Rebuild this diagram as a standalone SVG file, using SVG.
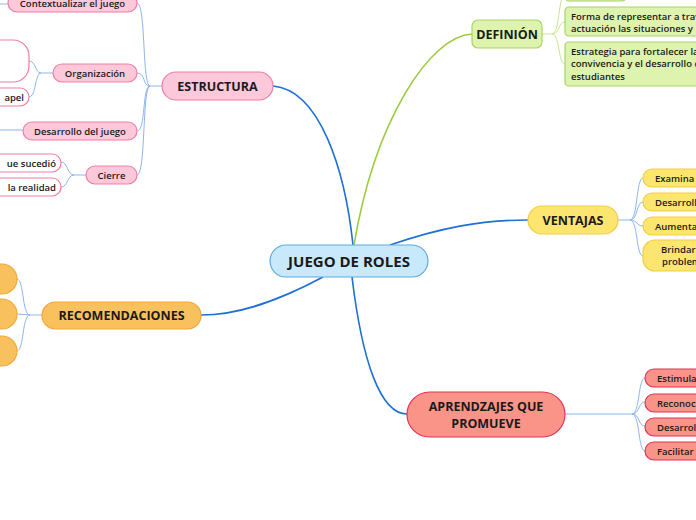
<svg xmlns="http://www.w3.org/2000/svg" width="696" height="520" viewBox="0 0 696 520">
<style>
text{font-family:"Open Sans","Noto Sans","Liberation Sans",sans-serif;fill:#1a1a1a;font-weight:700}
.t{font-size:15px;text-anchor:middle}
.m{font-size:12.5px;text-anchor:middle}
.s{font-size:9.5px;font-weight:600}
.sc{font-size:9.5px;font-weight:600;text-anchor:middle}
.pink{fill:#fcc8da;stroke:#ee7fa4;stroke-width:1.2}
.pinkw{fill:#ffffff;stroke:#ee7fa4;stroke-width:1.2}
.green{fill:#def3ae;stroke:#a9d46a;stroke-width:1.2}
.yellow{fill:#fde670;stroke:#f1cd45;stroke-width:1.2}
.red{fill:#fb9488;stroke:#e23259;stroke-width:1.2}
.orange{fill:#f9c15d;stroke:#f3a836;stroke-width:1.2}
.main{fill:none;stroke:#1f6fd6;stroke-width:1.6}
.mg{fill:none;stroke:#9ccb3e;stroke-width:1.6}
.sub{fill:none;stroke:#8db5ee;stroke-width:1}
.subg{fill:none;stroke:#c8e593;stroke-width:1}
</style>
<g id="connectors">
<path class="main" d="M273,86 C320,90 345,170 353,245"/>
<path class="mg" d="M354,245 C375,120 430,36 472,34"/>
<path class="main" d="M390,245 C440,228 480,220 528,220"/>
<path class="main" d="M352,277 C362,360 380,414 407,414"/>
<path class="main" d="M323,277 C280,300 240,315 201,315"/>
<path class="sub" d="M150,86 L162,86" stroke-width="2.5"/>
<path class="sub" d="M150,86 C142,86 146,3 137,3"/>
<path class="sub" d="M150,86 C142,86 146,73 137,73"/>
<path class="sub" d="M150,86 C142,86 146,131 137,131"/>
<path class="sub" d="M150,86 C142,86 146,175 137,175"/>
<path class="sub" d="M0,4 L8,4"/>
<path class="sub" d="M0,130 L23,130"/>
<path class="sub" d="M41,73 L53,73" stroke-width="2"/>
<path class="sub" d="M41,73 C35,73 36,61 29,61"/>
<path class="sub" d="M41,73 C35,73 36,97 29,97"/>
<path class="sub" d="M74,175 L86,175" stroke-width="2"/>
<path class="sub" d="M74,175 C67,175 68,162 61,162"/>
<path class="sub" d="M74,175 C67,175 68,187 61,187"/>
<path class="sub" d="M30,315 L42,315" stroke-width="2"/>
<path class="sub" d="M30,315 C22,315 24,279 17,279"/>
<path class="sub" d="M30,315 L17,314"/>
<path class="sub" d="M30,315 C22,315 24,351 17,351"/>
<path class="subg" d="M542,34 L552,34" stroke-width="2"/>
<path class="subg" d="M552,34 C560,34 558,-4 565,-6"/>
<path class="subg" d="M552,34 C560,34 558,22 565,22"/>
<path class="subg" d="M552,34 C560,34 558,64 565,64"/>
<path class="sub" d="M618,220 L630,220" stroke-width="2"/>
<path class="sub" d="M630,220 C638,220 636,178 643,178"/>
<path class="sub" d="M630,220 C638,220 636,202 643,202"/>
<path class="sub" d="M630,220 C638,220 636,226 643,226"/>
<path class="sub" d="M630,220 C638,220 636,256 643,256"/>
<path class="sub" d="M565,414 L632,414" stroke-width="2"/>
<path class="sub" d="M632,414 C640,414 638,378 645,378"/>
<path class="sub" d="M632,414 C640,414 638,402 645,402"/>
<path class="sub" d="M632,414 C640,414 638,426 645,426"/>
<path class="sub" d="M632,414 C640,414 638,451 645,451"/>
</g>
<g id="central">
<rect x="270" y="245" width="158" height="32" rx="16" fill="#c8e9fb" stroke="#5eabdc" stroke-width="1.2"/>
<text class="t" x="349" y="266.5">JUEGO DE ROLES</text>
</g>
<g id="estructura">
<rect class="pink" x="162" y="72" width="111" height="28" rx="14"/>
<text class="m" x="217.5" y="91">ESTRUCTURA</text>
</g>
<g id="contextualizar">
<rect class="pink" x="8" y="-6" width="129" height="18" rx="9"/>
<text class="sc" x="72.5" y="6.5">Contextualizar el juego</text>
</g>
<g id="organizacion">
<rect class="pink" x="53" y="64" width="84" height="18" rx="9"/>
<text class="sc" x="95" y="76.5">Organización</text>
</g>
<g id="org-child-1">
<rect class="pinkw" x="-40" y="40" width="69" height="42" rx="16"/>
</g>
<g id="org-child-2">
<rect class="pinkw" x="-40" y="88" width="69" height="18" rx="9"/>
<text class="s" x="24" y="100.5" text-anchor="end">apel</text>
</g>
<g id="desarrollo">
<rect class="pink" x="23" y="122" width="114" height="18" rx="9"/>
<text class="sc" x="80" y="134.5">Desarrollo del juego</text>
</g>
<g id="cierre">
<rect class="pink" x="86" y="166" width="51" height="18" rx="9"/>
<text class="sc" x="111.5" y="178.5">Cierre</text>
</g>
<g id="cierre-child-1">
<rect class="pinkw" x="-40" y="154" width="101" height="18" rx="9"/>
<text class="s" x="56" y="166.5" text-anchor="end">ue sucedió</text>
</g>
<g id="cierre-child-2">
<rect class="pinkw" x="-40" y="178" width="101" height="18" rx="9"/>
<text class="s" x="56" y="190.5" text-anchor="end">la realidad</text>
</g>
<g id="recomendaciones">
<rect class="orange" x="42" y="302" width="159" height="27" rx="13.5"/>
<text class="m" x="121.5" y="320">RECOMENDACIONES</text>
</g>
<g id="rec-child-1"><rect class="orange" x="-40" y="264" width="57" height="30" rx="15"/></g>
<g id="rec-child-2"><rect class="orange" x="-40" y="299" width="57" height="30" rx="15"/></g>
<g id="rec-child-3"><rect class="orange" x="-40" y="336" width="57" height="30" rx="15"/></g>
<g id="definicion">
<rect class="green" x="472" y="20" width="70" height="28" rx="6"/>
<text class="m" x="507" y="39">DEFINIÓN</text>
</g>
<g id="def-child-0"><rect class="green" x="565" y="-20" width="61" height="21" rx="4"/></g>
<g id="def-child-1">
<rect class="green" x="565" y="7" width="160" height="29" rx="4"/>
<text class="s" x="571" y="19.5">Forma de representar a trav</text>
<text class="s" x="571" y="31.5">actuación las situaciones y</text>
</g>
<g id="def-child-2">
<rect class="green" x="565" y="42" width="160" height="44" rx="4"/>
<text class="s" x="571" y="55">Estrategia para fortalecer la</text>
<text class="s" x="571" y="67">convivencia y el desarrollo d</text>
<text class="s" x="571" y="79.5">estudiantes</text>
</g>
<g id="ventajas">
<rect class="yellow" x="528" y="206" width="90" height="28" rx="14"/>
<text class="m" x="573" y="225">VENTAJAS</text>
</g>
<g id="ven-1"><rect class="yellow" x="643" y="169" width="80" height="18" rx="9"/><text class="s" x="655" y="181.5">Examina</text></g>
<g id="ven-2"><rect class="yellow" x="643" y="193" width="80" height="18" rx="9"/><text class="s" x="655" y="205.5">Desarroll</text></g>
<g id="ven-3"><rect class="yellow" x="643" y="217" width="80" height="18" rx="9"/><text class="s" x="655" y="229.5">Aumenta</text></g>
<g id="ven-4"><rect class="yellow" x="643" y="240" width="80" height="31" rx="12"/><text class="s" x="661" y="252.5">Brindar</text><text class="s" x="662" y="265">problem</text></g>
<g id="aprendizajes">
<rect class="red" x="407" y="392" width="158" height="45" rx="22.5"/>
<text class="m" x="486" y="411">APRENDZAJES QUE</text>
<text class="m" x="486" y="428">PROMUEVE</text>
</g>
<g id="apr-1"><rect class="red" x="645" y="369" width="80" height="18" rx="9"/><text class="s" x="657" y="381.5">Estimula</text></g>
<g id="apr-2"><rect class="red" x="645" y="394" width="80" height="18" rx="9"/><text class="s" x="657" y="406.5">Reconoc</text></g>
<g id="apr-3"><rect class="red" x="645" y="418" width="80" height="18" rx="9"/><text class="s" x="657" y="430.5">Desarrol</text></g>
<g id="apr-4"><rect class="red" x="645" y="442" width="80" height="18" rx="9"/><text class="s" x="657" y="454.5">Facilitar</text></g>
</svg>
